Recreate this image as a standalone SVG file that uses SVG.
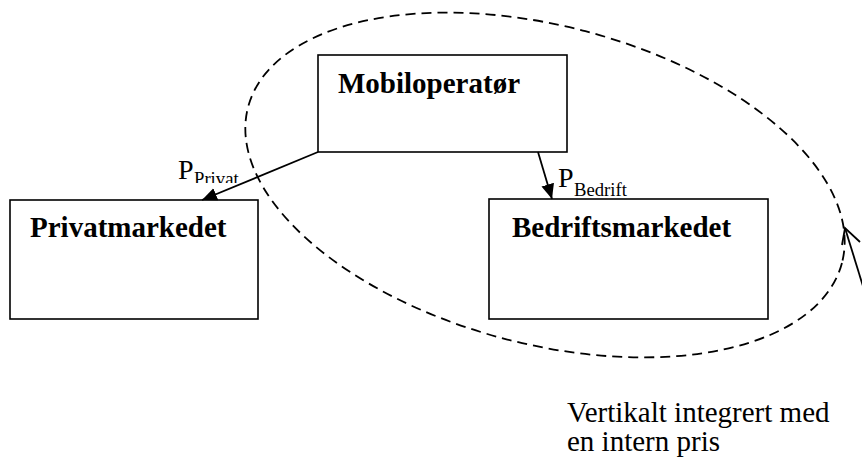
<svg xmlns="http://www.w3.org/2000/svg" width="862" height="459" viewBox="0 0 862 459">
  <style>
    .box { fill: #ffffff; stroke: #000000; stroke-width: 1.6; }
    .lbl { font-family: "Liberation Serif", "Times New Roman", serif; font-weight: bold; font-size: 29px; fill: #000000; }
    .txt { font-family: "Liberation Serif", "Times New Roman", serif; font-size: 29px; fill: #000000; }
    .p { font-family: "Liberation Serif", "Times New Roman", serif; font-size: 28px; fill: #000000; }
    .sub { font-family: "Liberation Serif", "Times New Roman", serif; font-size: 18.7px; fill: #000000; }
    .conn { stroke: #000000; stroke-width: 1.8; fill: none; }
    .dash { stroke: #000000; stroke-width: 1.8; fill: none; stroke-dasharray: 10 6; }
  </style>
  <defs>
    <marker id="arr" markerUnits="userSpaceOnUse" markerWidth="16" markerHeight="14" refX="15" refY="6.5" orient="auto">
      <path d="M0,0 L15,6.5 L0,13 z" fill="#000000"/>
    </marker>
    <clipPath id="clipPriv"><rect x="150" y="150" width="120" height="33"/></clipPath>
    <clipPath id="clipBed"><rect x="540" y="150" width="120" height="48"/></clipPath>
  </defs>
  <rect width="862" height="459" fill="#ffffff"/>

  <g id="labels">
    <g clip-path="url(#clipPriv)">
      <text class="p" x="178" y="179">P</text>
      <text class="sub" x="194" y="185">Privat</text>
    </g>
    <g clip-path="url(#clipBed)">
      <text class="p" x="558" y="187">P</text>
      <text class="sub" x="574" y="196">Bedrift</text>
    </g>
  </g>

  <g id="mobiloperator">
    <rect class="box" x="318" y="55" width="249" height="97"/>
    <text class="lbl" x="338" y="93">Mobiloperatør</text>
  </g>
  <g id="privatmarkedet">
    <rect class="box" x="10" y="200" width="248" height="119"/>
    <text class="lbl" x="30" y="237">Privatmarkedet</text>
  </g>
  <g id="bedriftsmarkedet">
    <rect class="box" x="489" y="199" width="279" height="120"/>
    <text class="lbl" x="512" y="237">Bedriftsmarkedet</text>
  </g>

  <g id="connectors">
    <line class="conn" x1="318" y1="152" x2="202" y2="200" marker-end="url(#arr)"/>
    <line class="conn" x1="538" y1="152" x2="552" y2="199" marker-end="url(#arr)"/>
    <ellipse class="dash" cx="545" cy="185" rx="307" ry="159" transform="rotate(14.7 545 185)"/>
    <line class="conn" x1="845" y1="228" x2="871" y2="312"/>
    <polyline class="conn" points="860,242 845,228 842,245"/>
  </g>

  <g id="note">
    <text class="txt" x="567" y="422">Vertikalt integrert med</text>
    <text class="txt" x="567" y="451">en intern pris</text>
  </g>
</svg>
